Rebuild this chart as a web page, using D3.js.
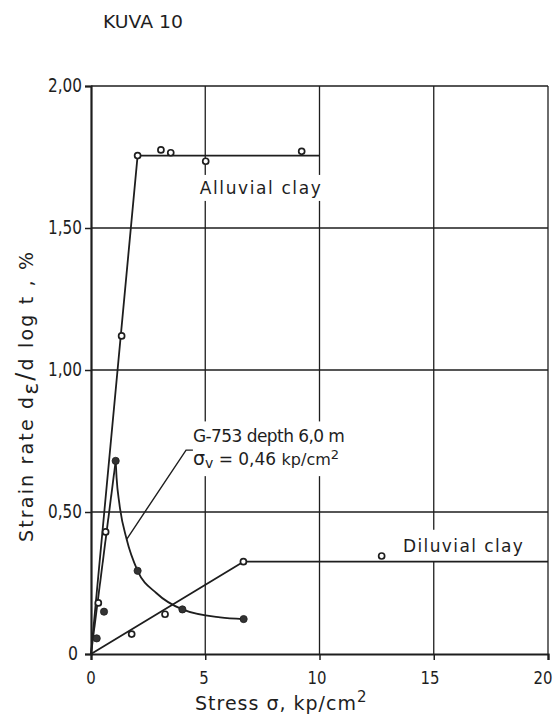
<!DOCTYPE html>
<html>
<head>
<meta charset="utf-8">
<script src="https://cdn.jsdelivr.net/npm/d3@7"></script>
<style>
  html, body { margin: 0; padding: 0; background: #fff; }
  svg { display: block; }
  text { font-family: "DejaVu Sans", "Liberation Sans", sans-serif; fill: #1e1e1e; }
</style>
</head>
<body>
<div id="chart"></div>
<script>
// ---------- data ----------
const title = "KUVA 10";

const xTicks = [0, 5, 10, 15, 20];
const xTickLabels = ["0", "5", "10", "15", "20"];
const yTicks = [0, 0.5, 1.0, 1.5, 2.0];
const yTickLabels = ["0", "0,50", "1,00", "1,50", "2,00"];

// Alluvial clay (open circles)
const alluvialStress = [0.32, 0.64, 1.34, 2.04, 3.06, 3.49, 5.02, 9.22];
const alluvialRate   = [0.18, 0.43, 1.12, 1.755, 1.775, 1.765, 1.735, 1.77];
const alluvialLineStress = [0, 2.04, 10];
const alluvialLineRate   = [0, 1.755, 1.755];

// Diluvial clay (open circles)
const diluvialStress = [1.78, 3.24, 6.67, 12.72];
const diluvialRate   = [0.07, 0.14, 0.325, 0.345];
const diluvialLineStress = [0, 6.67, 20];
const diluvialLineRate   = [0, 0.325, 0.325];

// G-753 depth 6,0 m (filled circles)
const g753Stress = [0.25, 0.57, 1.08, 2.04, 4.0, 6.68];
const g753Rate   = [0.055, 0.149, 0.68, 0.293, 0.157, 0.123];
const g753RiseStress = [0, 1.08];
const g753RiseRate   = [0, 0.68];
const g753CurveStress = [1.08, 1.12, 1.24, 1.56, 2.04, 2.87, 4.0, 5.65, 6.68];
const g753CurveRate   = [0.68, 0.62, 0.53, 0.404, 0.293, 0.214, 0.157, 0.129, 0.123];

// annotation leader (data units)
const leaderStress = [1.56, 4.16, 4.46];
const leaderRate   = [0.404, 0.718, 0.718];

// ---------- chart ----------
const W = 556, H = 716;
const svg = d3.select("#chart").append("svg").attr("width", W).attr("height", H);
svg.append("rect").attr("width", W).attr("height", H).attr("fill", "#fff");

const x = d3.scaleLinear().domain([0, 20]).range([91, 548]);
const y = d3.scaleLinear().domain([0, 2]).range([654, 86]);
const ink = "#1e1e1e";

// title
svg.append("text").attr("x", 103).attr("y", 28).attr("font-size", 17.5)
  .attr("textLength", 80).attr("lengthAdjust", "spacingAndGlyphs").text(title);

// grid
const grid = svg.append("g").attr("stroke", ink).attr("stroke-width", 1.3);
yTicks.filter(d => d > 0).forEach(d => {
  grid.append("line").attr("x1", x(0)).attr("x2", x(20)).attr("y1", y(d)).attr("y2", y(d));
});
xTicks.filter(d => d > 0).forEach(d => {
  grid.append("line").attr("x1", x(d)).attr("x2", x(d)).attr("y1", y(0)).attr("y2", y(2));
});

// axes
const xAxis = d3.axisBottom(x).tickValues(xTicks).tickSize(6).tickFormat("");
const yAxis = d3.axisLeft(y).tickValues(yTicks).tickSize(6).tickFormat("");
const gx = svg.append("g").attr("transform", `translate(0,${y(0)})`).call(xAxis);
const gy = svg.append("g").attr("transform", `translate(${x(0)},0)`).call(yAxis);
[gx, gy].forEach(g => {
  g.select(".domain").attr("stroke", ink).attr("stroke-width", 2.2);
  g.selectAll(".tick line").attr("stroke", ink).attr("stroke-width", 1.5);
});

// tick labels
xTicks.forEach((d, i) => {
  svg.append("text").attr("x", x(d) - d * 0.25).attr("y", 684).attr("text-anchor", "middle")
    .attr("font-size", 18).attr("textLength", xTickLabels[i].length * 9.5)
    .attr("lengthAdjust", "spacingAndGlyphs").text(xTickLabels[i]);
});
yTicks.forEach((d, i) => {
  const lbl = yTickLabels[i];
  svg.append("text").attr("x", d === 0 ? 78 : 82).attr("y", y(d) + 6).attr("text-anchor", "end")
    .attr("font-size", 19).attr("textLength", lbl.length === 1 ? 10 : 34)
    .attr("lengthAdjust", "spacingAndGlyphs").text(lbl);
});

// axis titles
const yl = svg.append("text").attr("transform", "translate(33,542) rotate(-90)")
  .attr("font-size", 19).attr("text-anchor", "start")
  .attr("textLength", 290).attr("lengthAdjust", "spacing");
yl.append("tspan").text("Strain rate d");
yl.append("tspan").attr("font-size", 22).attr("dy", 5).text("ε");
yl.append("tspan").attr("font-size", 24).attr("dy", -5).text("/");
yl.append("tspan").text("d log t , %");

const xl = svg.append("text").attr("x", 195).attr("y", 710).attr("font-size", 19)
  .attr("letter-spacing", 1);
xl.append("tspan").text("Stress σ, kp/cm");
xl.append("tspan").attr("font-size", 15).attr("dy", -8).text("2");

// labels with white backgrounds (break the grid lines like in the original)
const labelLayer = svg.append("g");
const dataLayer = svg.append("g");
const textLayer = svg.append("g");

function label(t, px, py, size, len) {
  return textLayer.append("text").attr("x", px).attr("y", py).attr("font-size", size)
    .attr("textLength", len).attr("lengthAdjust", "spacing").text(t);
}
const alluvialLbl = label("Alluvial clay", x(4.76), y(1.62), 17, 121);
const diluvialLbl = label("Diluvial clay", x(13.65), y(0.36), 17, 120);

const ann = textLayer.append("g");
ann.append("text").attr("x", x(4.46)).attr("y", y(0.745)).attr("font-size", 17)
  .attr("textLength", 152).attr("lengthAdjust", "spacing").text("G-753 depth 6,0 m");
const a2 = ann.append("text").attr("x", x(4.46)).attr("y", y(0.665)).attr("font-size", 17);
a2.append("tspan").attr("font-size", 19).text("σ");
a2.append("tspan").attr("font-size", 14).attr("dy", 3).text("v");
a2.append("tspan").attr("dy", -3).text(" = 0,46 ");
a2.append("tspan").attr("font-size", 16).text("kp/cm");
a2.append("tspan").attr("font-size", 13).attr("dy", -6).text("2");

function addBg(node, padX, padY) {
  const b = node.getBBox();
  labelLayer.append("rect").attr("x", b.x - padX).attr("y", b.y - padY)
    .attr("width", b.width + 2 * padX).attr("height", b.height + 2 * padY).attr("fill", "#fff");
}
addBg(alluvialLbl.node(), 3, 3);
addBg(diluvialLbl.node(), 3, 6);
addBg(ann.node(), 3, 5);

// data lines
const line = d3.line().x(d => x(d[0])).y(d => y(d[1]));
const zip = (a, b) => a.map((v, i) => [v, b[i]]);
const lineStyle = sel => sel.attr("fill", "none").attr("stroke", ink).attr("stroke-width", 1.8)
  .attr("stroke-linejoin", "round");

dataLayer.append("path").datum(zip(alluvialLineStress, alluvialLineRate)).attr("d", line).call(lineStyle);
dataLayer.append("path").datum(zip(diluvialLineStress, diluvialLineRate)).attr("d", line).call(lineStyle);
dataLayer.append("path").datum(zip(g753RiseStress, g753RiseRate)).attr("d", line).call(lineStyle);
dataLayer.append("path").datum(zip(g753CurveStress, g753CurveRate))
  .attr("d", d3.line().curve(d3.curveMonotoneX).x(d => x(d[0])).y(d => y(d[1]))).call(lineStyle);
dataLayer.append("path").datum(zip(leaderStress, leaderRate)).attr("d", line)
  .attr("fill", "none").attr("stroke", ink).attr("stroke-width", 1.4);

// points
dataLayer.selectAll("circle.open").data(zip(alluvialStress, alluvialRate).concat(zip(diluvialStress, diluvialRate)))
  .join("circle").attr("class", "open").attr("cx", d => x(d[0])).attr("cy", d => y(d[1]))
  .attr("r", 3).attr("fill", "#fff").attr("stroke", ink).attr("stroke-width", 1.7);
dataLayer.selectAll("circle.filled").data(zip(g753Stress, g753Rate))
  .join("circle").attr("class", "filled").attr("cx", d => x(d[0])).attr("cy", d => y(d[1]))
  .attr("r", 3.6).attr("fill", "#333").attr("stroke", ink).attr("stroke-width", 0.8);
</script>
</body>
</html>
